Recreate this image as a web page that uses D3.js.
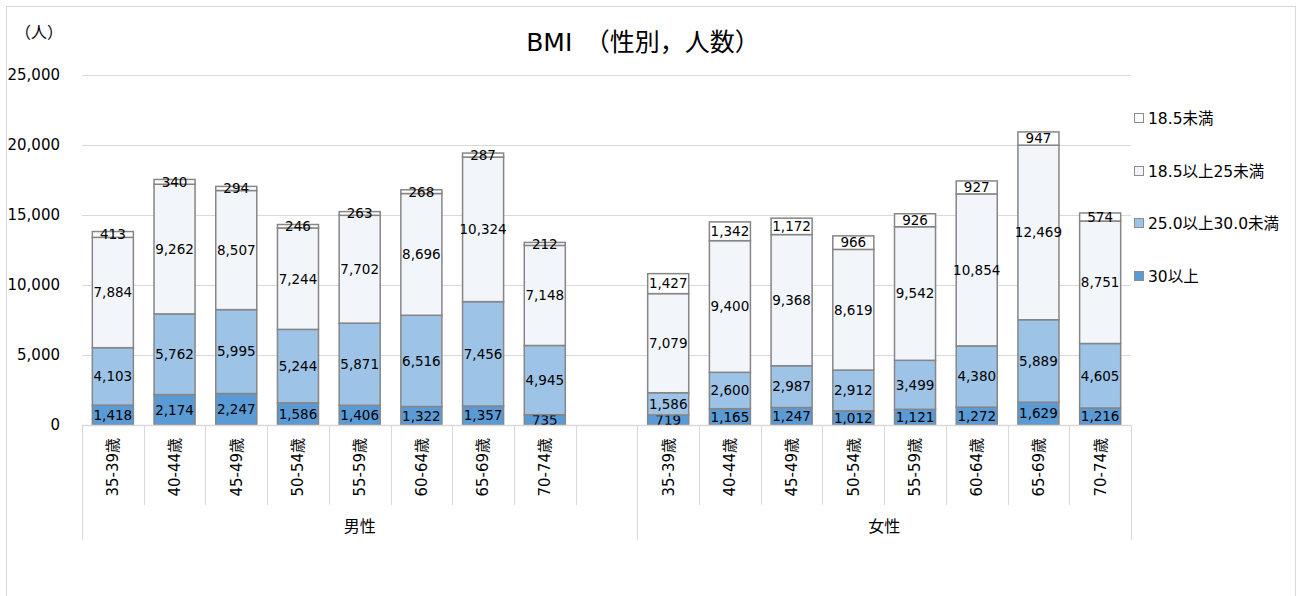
<!DOCTYPE html>
<html>
<head>
<meta charset="utf-8">
<script src="https://cdn.jsdelivr.net/npm/d3@7"></script>
<style>
  body { margin: 0; background: #fff; }
  svg text { font-family: "DejaVu Sans", "Noto Sans CJK JP", sans-serif; fill: #000; }
</style>
</head>
<body>
<svg id="chart" width="1299" height="596"></svg>
<script>
// ── data
const groups   = ['男性', '女性'];
const ages     = ['35-39歳', '40-44歳', '45-49歳', '50-54歳', '55-59歳', '60-64歳', '65-69歳', '70-74歳'];
const seriesNames = ['30以上', '25.0以上30.0未満', '18.5以上25未満', '18.5未満'];

// male values, one array per series (bottom → top)
const maleOver30   = [1418, 2174, 2247, 1586, 1406, 1322, 1357, 735];
const male25to30   = [4103, 5762, 5995, 5244, 5871, 6516, 7456, 4945];
const male185to25  = [7884, 9262, 8507, 7244, 7702, 8696, 10324, 7148];
const maleUnder185 = [413, 340, 294, 246, 263, 268, 287, 212];

const femaleOver30   = [719, 1165, 1247, 1012, 1121, 1272, 1629, 1216];
const female25to30   = [1586, 2600, 2987, 2912, 3499, 4380, 5889, 4605];
const female185to25  = [7079, 9400, 9368, 8619, 9542, 10854, 12469, 8751];
const femaleUnder185 = [1427, 1342, 1172, 966, 926, 927, 947, 574];

const yTicks = [0, 5000, 10000, 15000, 20000, 25000];

const colors = ['#5b9bd5', '#9dc3e6', '#f2f6fb', '#ffffff'];

// ── build rows: male 8 + one blank slot + female 8
const rows = [];
ages.forEach((a, i) => rows.push({ key: 'M' + i, group: 0, age: a,
  v: [maleOver30[i], male25to30[i], male185to25[i], maleUnder185[i]] }));
rows.push({ key: 'blank', group: 0, age: '', v: null });
ages.forEach((a, i) => rows.push({ key: 'F' + i, group: 1, age: a,
  v: [femaleOver30[i], female25to30[i], female185to25[i], femaleUnder185[i]] }));

const plot = { left: 82, right: 1131, top: 75, bottom: 425 };

const svg = d3.select('#chart');

// outer chart border
svg.append('rect')
  .attr('x', 6.5).attr('y', 6.5)
  .attr('width', 1289).attr('height', 600)
  .attr('fill', 'none').attr('stroke', '#d9d9d9');

const x = d3.scaleBand()
  .domain(rows.map(d => d.key))
  .range([plot.left, plot.right])
  .paddingInner(0.335)
  .paddingOuter(0.1675);

const y = d3.scaleLinear().domain([0, 25000]).range([plot.bottom, plot.top]);

// ── gridlines + y axis
svg.append('g')
  .attr('transform', `translate(${plot.left},0)`)
  .call(d3.axisLeft(y).tickValues(yTicks).tickSize(-(plot.right - plot.left)).tickPadding(22)
    .tickFormat(d3.format(',')))
  .call(g => g.select('.domain').remove())
  .call(g => g.selectAll('.tick line').attr('stroke', '#d9d9d9'))
  .call(g => g.selectAll('.tick text').attr('font-size', 15)
    .style('font-family', '"DejaVu Sans", sans-serif'));

// ── stacked bars
const stack = d3.stack().keys([0, 1, 2, 3]).value((d, k) => d.v[k]);
const stacked = stack(rows.filter(d => d.v));

const layers = svg.append('g').attr('class', 'bars')
  .selectAll('g')
  .data(stacked)
  .join('g')
    .attr('fill', (d, i) => colors[i]);

layers.selectAll('rect')
  .data(d => d)
  .join('rect')
    .attr('x', d => x(d.data.key))
    .attr('width', x.bandwidth())
    .attr('y', d => y(d[1]))
    .attr('height', d => y(d[0]) - y(d[1]))
    .attr('stroke', '#868686')
    .attr('stroke-width', 1.5);

// data labels
layers.selectAll('text')
  .data(d => d)
  .join('text')
    .attr('x', d => x(d.data.key) + x.bandwidth() / 2)
    .attr('y', d => (y(d[0]) + y(d[1])) / 2)
    .attr('dy', '0.36em')
    .attr('text-anchor', 'middle')
    .attr('font-size', 13.5)
    .text(d => d3.format(',')(d[1] - d[0]));

// ── category axis (two levels)
const axisG = svg.append('g').attr('class', 'cat-axis');
axisG.append('line')
  .attr('x1', plot.left).attr('x2', plot.right)
  .attr('y1', plot.bottom + 0.5).attr('y2', plot.bottom + 0.5)
  .attr('stroke', '#d9d9d9').attr('stroke-width', 1.5);

const step = x.step();
const slotStart = d => x(d.key) - (step - x.bandwidth()) / 2;

// short separators between categories
axisG.selectAll('line.tick')
  .data(rows.slice(1))
  .join('line')
    .attr('class', 'tick')
    .attr('x1', d => Math.round(slotStart(d)) + 0.5)
    .attr('x2', d => Math.round(slotStart(d)) + 0.5)
    .attr('y1', plot.bottom).attr('y2', 505)
    .attr('stroke', '#d9d9d9');

// long group separators
const groupEdges = [plot.left, slotStart(rows[9]), plot.right];
axisG.selectAll('line.group')
  .data(groupEdges)
  .join('line')
    .attr('class', 'group')
    .attr('x1', d => Math.round(d) + 0.5).attr('x2', d => Math.round(d) + 0.5)
    .attr('y1', plot.bottom).attr('y2', 540)
    .attr('stroke', '#d9d9d9');

// rotated age labels
axisG.selectAll('text.age')
  .data(rows.filter(d => d.age))
  .join('text')
    .attr('class', 'age')
    .attr('transform', d => `translate(${x(d.key) + x.bandwidth() / 2},${plot.bottom + 13}) rotate(-90)`)
    .attr('text-anchor', 'end')
    .attr('dy', '0.36em')
    .attr('font-size', 15)
    .text(d => d.age);

// group labels
axisG.selectAll('text.grp')
  .data(groups)
  .join('text')
    .attr('class', 'grp')
    .attr('x', (d, i) => (groupEdges[i] + groupEdges[i + 1]) / 2)
    .attr('y', 526)
    .attr('dy', '0.36em')
    .attr('text-anchor', 'middle')
    .attr('font-size', 16)
    .text(d => d);

// ── title and unit
svg.append('text')
  .attr('x', 643).attr('y', 42)
  .attr('dy', '0.36em')
  .attr('text-anchor', 'middle')
  .attr('font-size', 25)
  .text('BMI　（性別，人数）');

svg.append('text')
  .attr('x', 15).attr('y', 32)
  .attr('dy', '0.36em')
  .attr('font-size', 16)
  .text('（人）');

// ── legend (top series first)
const legendY = [118, 171, 223, 276];
const legend = svg.append('g').attr('class', 'legend')
  .selectAll('g')
  .data([3, 2, 1, 0])
  .join('g')
    .attr('transform', (d, i) => `translate(1134,${legendY[i]})`);

legend.append('rect')
  .attr('x', 0.5).attr('y', -4.5)
  .attr('width', 9).attr('height', 9)
  .attr('fill', d => colors[d])
  .attr('stroke', '#8c8c8c');

legend.append('text')
  .attr('x', 14).attr('dy', '0.36em')
  .attr('font-size', 15.5)
  .text(d => seriesNames[d]);
</script>
</body>
</html>
